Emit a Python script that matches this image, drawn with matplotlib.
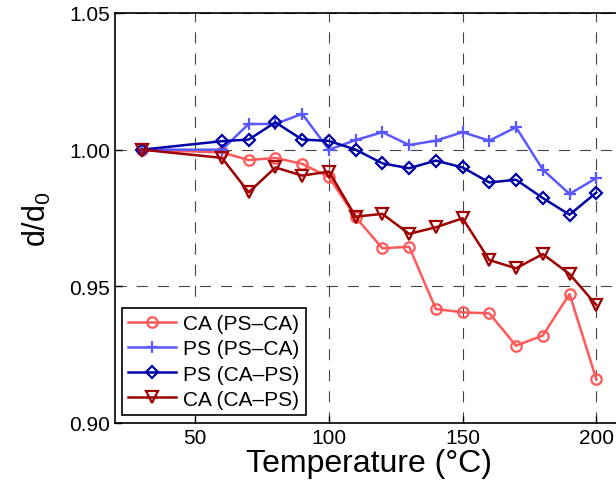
import matplotlib
matplotlib.use("Agg")
import matplotlib.pyplot as plt

plt.rcParams['font.family'] = ['Liberation Sans', 'DejaVu Sans']
plt.rcParams['mathtext.default'] = 'regular'

temps = [30, 60, 70, 80, 90, 100, 110, 120, 130, 140, 150, 160, 170, 180, 190, 200]
ca_psca = [1.000, 0.999, 0.9962, 0.997, 0.9948, 0.990, 0.9753, 0.9639, 0.9645, 0.9417,
           0.9405, 0.9401, 0.9283, 0.932, 0.9472, 0.9161]
ps_psca = [1.000, 1.000, 1.0094, 1.0094, 1.0131, 1.000, 1.0035, 1.0064, 1.0017, 1.0033,
           1.0064, 1.0033, 1.0082, 0.9927, 0.9838, 0.9896]
ps_caps = [1.000, 1.0031, 1.0037, 1.010, 1.0037, 1.0032, 1.000, 0.995, 0.9932, 0.996,
           0.9935, 0.988, 0.989, 0.9823, 0.9762, 0.9843]
ca_caps = [1.000, 0.997, 0.9844, 0.9935, 0.9905, 0.992, 0.9755, 0.9765, 0.9692, 0.9716,
           0.9749, 0.9596, 0.9566, 0.9618, 0.9545, 0.9432]
labels = ['CA (PS\u2013CA)', 'PS (PS\u2013CA)', 'PS (CA\u2013PS)', 'CA (CA\u2013PS)']
xticks = [50, 100, 150, 200]
yticks = [0.90, 0.95, 1.00, 1.05]

fig = plt.figure(figsize=(6.16, 4.89), dpi=100)
ax = fig.add_axes([115/616, 65/489, 508/616, 410/489])

series = [
    (ca_psca, (1.0, 0.35, 0.35), 'o', 7.5),
    (ps_psca, (0.35, 0.35, 1.0), '+', 8.5),
    (ps_caps, (0.0, 0.0, 0.65), 'D', 6.5),
    (ca_caps, (0.62, 0.0, 0.0), 'v', 8),
]
for (vals, col, mk, ms), lab in zip(series, labels):
    ax.plot(temps, vals, color=col, marker=mk, markersize=ms, markerfacecolor='none',
            markeredgecolor=col, markeredgewidth=1.6, linewidth=1.8, label=lab)

ax.set_xlim(20, 210)
ax.set_ylim(0.90, 1.05)
ax.set_xticks(xticks)
ax.set_yticks(yticks)
ax.set_yticklabels(['%.2f' % v for v in yticks])
ax.tick_params(direction='in', length=5, labelsize=15, top=False, right=False, width=1)
ax.grid(True, color='#444444', linestyle=(0, (10, 9)), linewidth=0.8)
for s in ax.spines.values():
    s.set_linewidth(1.2)

ax.set_xlabel('Temperature (\u00b0C)', fontsize=23, labelpad=1)
ax.set_ylabel('d/d$_0$', fontsize=22, labelpad=12)

leg = ax.legend(loc='lower left', bbox_to_anchor=(0.013, 0.0195), fontsize=15,
                frameon=True, fancybox=False, edgecolor='black', framealpha=1,
                handlelength=2.3, borderpad=0.3, labelspacing=0.3, handletextpad=0.35,
                borderaxespad=0)
leg.get_frame().set_linewidth(1.2)

fig.savefig('out.png', dpi=100)
